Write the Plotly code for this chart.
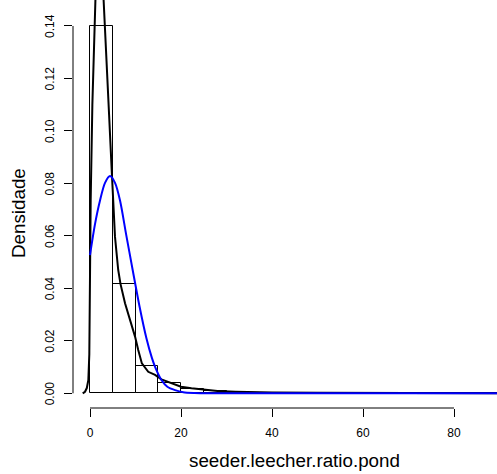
import plotly.graph_objects as go

# ---- data ----
bin_left = [0, 5, 10, 15, 20, 25, 30, 35, 40, 45, 50, 55, 60, 65, 70, 75, 80, 85, 90]
bin_density = [0.1401, 0.0417, 0.0105, 0.0038, 0.0016, 0.0009, 0.0005, 0.0003, 0.0002,
               0.0001, 0.0001, 0.0001, 0.00005, 0.00005, 0.00005, 0.00005, 0.00003, 0.00003, 0.00003]
bin_width = 5

kde_x = [-1.6, -1.1, -0.7, -0.37, -0.15, 0.0, 0.15, 0.52, 0.88, 1.2, 1.5, 1.9, 2.3, 2.7, 3.08,
         3.6, 4.2, 4.77, 5.13, 5.49, 6.2, 6.7, 7.7, 8.8, 9.9, 10.6, 11.4, 12.8, 14.3, 15.7,
         17.0, 18.7, 20.0, 22.3, 25.0, 28.0, 32.0, 36.0, 40.0, 50.0, 60.0, 70.0, 80.0, 95.0]
kde_y = [0.0, 0.0006, 0.002, 0.005, 0.015, 0.043, 0.0736, 0.11, 0.1457, 0.175, 0.19, 0.192,
         0.175, 0.1593, 0.1457, 0.127, 0.106, 0.0851, 0.0724, 0.0597, 0.047, 0.0417, 0.0343,
         0.0279, 0.0216, 0.0165, 0.0114, 0.0082, 0.007, 0.0053, 0.0045, 0.0032, 0.0025, 0.0019,
         0.0014, 0.0009, 0.0006, 0.0004, 0.0003, 0.0002, 0.0001, 0.0001, 0.00005, 0.00003]

norm_x = [0.0, 1.1, 2.2, 3.3, 4.4, 5.5, 6.6, 7.95, 9.4, 10.9, 12.4, 13.6, 14.3, 15.7,
          17.0, 18.7, 20.5, 23.0, 26.0, 40.0, 60.0, 80.0, 95.0]
norm_y = [0.0527, 0.0645, 0.0735, 0.0802, 0.0828, 0.0802, 0.0735, 0.0605, 0.0468, 0.0330,
          0.0210, 0.0135, 0.0101, 0.0051, 0.0025, 0.0012, 0.0004, 0.0001, 0.0, 0.0, 0.0,
          0.0, 0.0]

x_ticks = [0, 20, 40, 60, 80]
y_ticks = [0.00, 0.02, 0.04, 0.06, 0.08, 0.10, 0.12, 0.14]
y_tick_text = ["0.00", "0.02", "0.04", "0.06", "0.08", "0.10", "0.12", "0.14"]
x_title = "seeder.leecher.ratio.pond"
y_title = "Densidade"

FONT = "Liberation Sans, Arial, Helvetica, sans-serif"

fig = go.Figure()
fig.add_trace(go.Bar(
    x=[b + bin_width / 2 for b in bin_left], y=bin_density, width=bin_width,
    marker=dict(color="rgba(0,0,0,0)", line=dict(color="black", width=1)),
    showlegend=False, hoverinfo="skip"))
fig.add_trace(go.Scatter(x=kde_x, y=kde_y, mode="lines",
                         line=dict(color="black", width=2), showlegend=False))
fig.add_trace(go.Scatter(x=norm_x, y=norm_y, mode="lines",
                         line=dict(color="#0000FF", width=2, shape="spline", smoothing=0.8),
                         showlegend=False))

annotations = [
    dict(text=x_title, xref="paper", yref="paper", x=(294.2 - 73) / 424,
         y=(408 - 460) / 408, xanchor="center", yanchor="middle", showarrow=False,
         font=dict(size=18.8, family=FONT)),
    dict(text=y_title, xref="paper", yref="paper", x=(19 - 73) / 424,
         y=(408 - 213) / 408, xanchor="center", yanchor="middle", textangle=-90,
         showarrow=False, font=dict(size=18.8, family=FONT)),
]
for v, t in zip(y_ticks, y_tick_text):
    annotations.append(dict(text=t, xref="paper", yref="y", x=(50 - 73) / 424, y=v,
                            xanchor="center", yanchor="middle", textangle=-90,
                            showarrow=False, font=dict(size=12, family=FONT)))

fig.update_layout(
    width=497, height=474,
    margin=dict(l=73, r=0, t=0, b=66),
    plot_bgcolor="white", paper_bgcolor="white",
    bargap=0,
    font=dict(family=FONT, color="black"),
    xaxis=dict(range=[-3.736, 89.45], tickvals=x_ticks, ticks="outside", ticklen=8,
               tickwidth=1, tickcolor="black", showgrid=False, zeroline=False,
               showline=False, tickfont=dict(size=12, family=FONT), ticklabelstandoff=6),
    yaxis=dict(range=[-0.0056, 0.1499], tickvals=y_ticks, showticklabels=False,
               ticks="outside", ticklen=8, tickwidth=1, tickcolor="black",
               showgrid=False, zeroline=False, showline=False),
    shapes=[
        dict(type="line", xref="x", yref="paper", x0=x_ticks[0], x1=x_ticks[-1], y0=0, y1=0,
             line=dict(color="black", width=1)),
        dict(type="line", xref="paper", yref="y", x0=0, x1=0, y0=y_ticks[0], y1=y_ticks[-1],
             line=dict(color="black", width=1)),
    ],
    annotations=annotations,
)

fig.write_html("out.html", config={"displayModeBar": False},
               post_script="document.body.style.margin='0';document.body.style.overflow='hidden';")
